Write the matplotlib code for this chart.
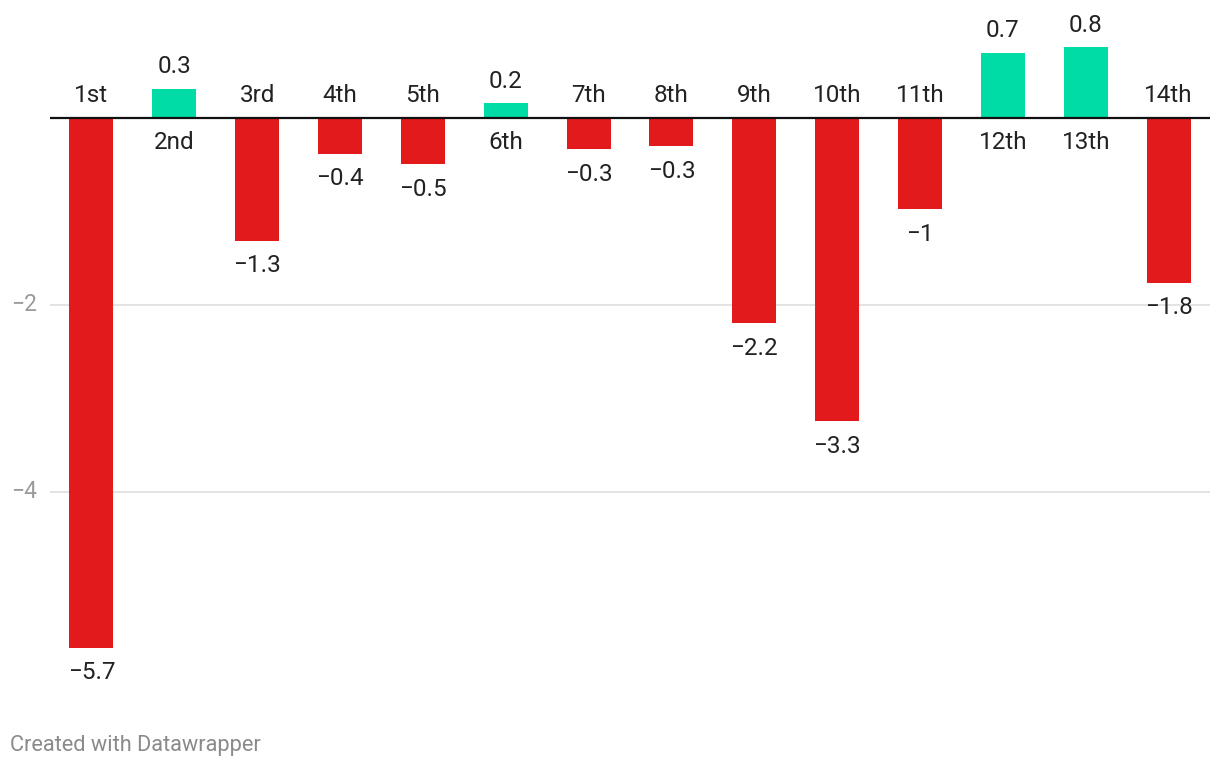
import numpy as np
import matplotlib.pyplot as plt

plt.rcParams['font.family'] = ['Roboto', 'DejaVu Sans']

###############################################################################
# Data
# ----
categories = ["1st", "2nd", "3rd", "4th", "5th", "6th", "7th",
              "8th", "9th", "10th", "11th", "12th", "13th", "14th"]
values = [-5.67, 0.31, -1.32, -0.39, -0.5, 0.15, -0.34,
          -0.31, -2.2, -3.25, -0.98, 0.69, 0.75, -1.77]
value_labels = ["\u22125.7", "0.3", "\u22121.3", "\u22120.4", "\u22120.5", "0.2", "\u22120.3",
                "\u22120.3", "\u22122.2", "\u22123.3", "\u22121", "0.7", "0.8", "\u22121.8"]
y_ticks = [-4, -2]
y_tick_labels = ["\u22124", "\u22122"]

color_neg = "#e31a1c"
color_pos = "#00dca6"
text_color = "#222222"

###############################################################################
# Figure
# ------
W, H, dpi = 1220, 768, 100
fig = plt.figure(figsize=(W / dpi, H / dpi), dpi=dpi)

# axes area in pixels: x 50..1210, y 0..700 (from top)
ax = fig.add_axes([50 / W, 68 / H, 1160 / W, 700 / H])

zero_px = 117.5
px_per_unit = 93.5
y_top = zero_px / px_per_unit
y_bot = -(700 - zero_px) / px_per_unit

x = np.arange(len(categories))
colors = [color_pos if v > 0 else color_neg for v in values]
ax.bar(x, values, width=0.53, color=colors, zorder=3)

ax.set_xlim(-0.5, len(categories) - 0.5)
ax.set_ylim(y_bot, y_top)

# grid + baseline
for t, tl in zip(y_ticks, y_tick_labels):
    ax.axhline(t, color="#e3e3e3", lw=1.4, zorder=1)
    ax.text(-13 / 1160 * len(categories) - 0.5, t, tl,
            ha="right", va="center", fontsize=16.5, color="#9a9a9a")
ax.axhline(0, color="#111111", lw=1.6, zorder=4)

# labels
fs = 17.5
for xi, v, c, vl in zip(x, values, categories, value_labels):
    if v < 0:
        ax.annotate(c, (xi, 0), xytext=(0, 16), textcoords="offset points",
                    ha="center", va="center", fontsize=fs, color=text_color)
        ax.annotate(vl, (xi, v), xytext=(0, -18), textcoords="offset points",
                    ha="center", va="center", fontsize=fs, color=text_color)
    else:
        ax.annotate(c, (xi, 0), xytext=(0, -18), textcoords="offset points",
                    ha="center", va="center", fontsize=fs, color=text_color)
        ax.annotate(vl, (xi, v), xytext=(0, 16), textcoords="offset points",
                    ha="center", va="center", fontsize=fs, color=text_color)

ax.set_xticks([])
ax.set_yticks([])
for s in ax.spines.values():
    s.set_visible(False)
ax.patch.set_alpha(0)

fig.text(10 / W, 1 - 745 / H, "Created with Datawrapper", ha="left", va="center",
         fontsize=15.7, color="#8a8a8a")

fig.savefig("out.png", dpi=dpi)
